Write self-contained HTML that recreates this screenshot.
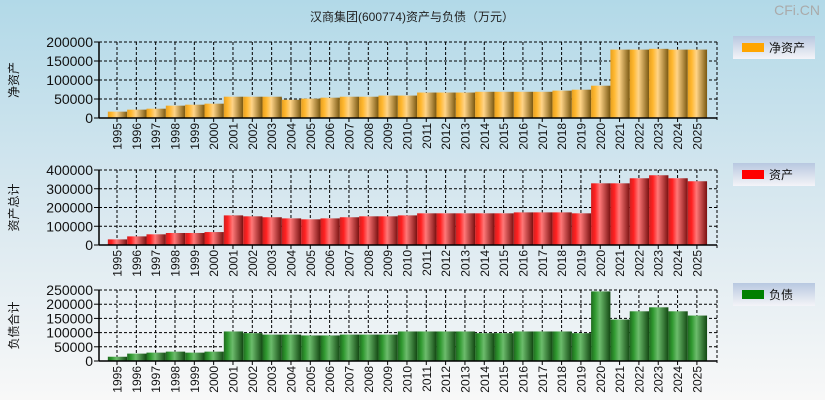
<!DOCTYPE html>
<html><head><meta charset="utf-8">
<style>
html,body{margin:0;padding:0;}
body{width:825px;height:400px;overflow:hidden;font-family:"Liberation Sans","Noto Sans CJK SC",sans-serif;}
</style></head>
<body>
<svg id="chart" width="825" height="400" xmlns="http://www.w3.org/2000/svg">
<defs>
<linearGradient id="bg" x1="0" y1="0" x2="0" y2="1">
<stop offset="0" stop-color="#b2d9e8"/><stop offset="0.55" stop-color="#dbe9f0"/><stop offset="1" stop-color="#f8f8f8"/>
</linearGradient>
<linearGradient id="gO" x1="0" y1="0" x2="1" y2="0">
<stop offset="0" stop-color="#e8a020"/><stop offset="0.2" stop-color="#ffb830"/><stop offset="0.45" stop-color="#ffd488"/><stop offset="1" stop-color="#7a5810"/>
</linearGradient>
<linearGradient id="gR" x1="0" y1="0" x2="1" y2="0">
<stop offset="0" stop-color="#d02020"/><stop offset="0.2" stop-color="#ff2020"/><stop offset="0.45" stop-color="#ff7878"/><stop offset="1" stop-color="#7a1010"/>
</linearGradient>
<linearGradient id="gG" x1="0" y1="0" x2="1" y2="0">
<stop offset="0" stop-color="#1f6a1f"/><stop offset="0.2" stop-color="#2f982f"/><stop offset="0.45" stop-color="#6cbc6c"/><stop offset="1" stop-color="#124812"/>
</linearGradient>
<linearGradient id="lg" x1="0" y1="0" x2="0" y2="1">
<stop offset="0" stop-color="#b8c8e0"/><stop offset="1" stop-color="#f4f4f8"/>
</linearGradient>
</defs>
<rect x="0" y="0" width="825" height="400" fill="url(#bg)"/>
<text x="412" y="21" text-anchor="middle" font-size="12" fill="#222">汉商集团(600774)资产与负债（万元）</text>
<text x="820" y="15" text-anchor="end" font-size="14" fill="#aaa">CFi.CN</text>
<g id="panels"></g>
</svg>
<script>
const years = ["1995","1996","1997","1998","1999","2000","2001","2002","2003","2004","2005","2006","2007","2008","2009","2010","2011","2012","2013","2014","2015","2016","2017","2018","2019","2020","2021","2022","2023","2024","2025"];
const netAssets = [16700,22000,24500,32500,35000,37700,56000,56000,56000,48000,51000,53500,56000,56000,59000,59000,67000,67000,67000,69000,69000,69000,69000,72000,74500,85000,180000,180000,182000,180000,180000];
const totalAssets = [30000,46000,57000,64000,64000,69000,158000,153000,148000,142000,137000,142000,148000,153000,153000,158000,169000,169000,169000,169000,169000,174000,174000,174000,169000,329000,329000,356000,372000,356000,340000];
const liabilities = [15000,26000,29500,33000,29500,33000,104000,98000,93000,93000,90000,90000,93000,93000,93000,104000,104000,104000,104000,98000,98000,104000,104000,104000,98000,245000,146000,175000,189000,175000,160000];
const ticks1 = [0,50000,100000,150000,200000];
const ticks2 = [0,100000,200000,300000,400000];
const ticks3 = [0,50000,100000,150000,200000,250000];

const NS="http://www.w3.org/2000/svg";
const root=document.getElementById('panels');
function mk(tag,attrs,parent){const e=document.createElementNS(NS,tag);for(const k in attrs)e.setAttribute(k,attrs[k]);(parent||root).appendChild(e);return e;}
const X0=99,X1=717,firstTick=117,step=19.33;
function xScale(i){return firstTick+i*step;}

function panel(key,values,ticks,top,bottom,fill,swatch,ytitle,legendLabel,legTop){
  const g=mk('g',{});
  
  
  const maxV=ticks[ticks.length-1];
  const yScale=v=>bottom-(v/maxV)*(bottom-top);
  // grid
  ticks.forEach(t=>{ if(t===0)return;
    const l=mk('line',{x1:X0,x2:X1,y1:yScale(t),y2:yScale(t),stroke:'#000','stroke-dasharray':'3,2','stroke-width':1},g);
    
    
  });
  years.forEach((y,i)=>{
    const l=mk('line',{x1:xScale(i),x2:xScale(i),y1:top,y2:bottom,stroke:'#000','stroke-dasharray':'3,2','stroke-width':1},g);
    
    
  });
  const rb=mk('line',{x1:X1,x2:X1,y1:top,y2:bottom+4,stroke:'#000','stroke-dasharray':'3,2'},g);
  
  
  // bars
  values.forEach((v,i)=>{
    const y=yScale(v);
    const r=mk('rect',{x:xScale(i)-step/2+0.5,y:y,width:step,height:bottom-y,fill:fill},g);
    
    
  });
  // axes
  const ya=mk('line',{x1:X0,x2:X0,y1:top,y2:bottom,stroke:'#000','stroke-width':1.5},g);
  
  
  const xa=mk('line',{x1:X0,x2:X1,y1:bottom,y2:bottom,stroke:'#000','stroke-width':1.5},g);
  
  
  ticks.forEach(t=>{
    const tk=mk('line',{x1:X0-5,x2:X0,y1:yScale(t),y2:yScale(t),stroke:'#000'},g);
    
    
    const tx=mk('text',{x:X0-6,y:yScale(t)+5,'text-anchor':'end','font-size':'14',fill:'#111'},g);
    tx.textContent=String(t);
    
    
  });
  years.forEach((y,i)=>{
    const tk=mk('line',{x1:xScale(i),x2:xScale(i),y1:bottom,y2:bottom+4,stroke:'#000'},g);
    
    
    const tx=mk('text',{x:0,y:0,'text-anchor':'end','font-size':'12',fill:'#111',transform:'translate('+(xScale(i)+4.5)+','+(bottom+5)+') rotate(-90)'},g);
    tx.textContent=y;
    
    
  });
  const yt=mk('text',{x:0,y:0,'text-anchor':'middle','font-size':'12',fill:'#111',transform:'translate(18,'+((top+bottom)/2)+') rotate(-90)'},g);
  yt.textContent=ytitle;
  
  
  // legend
  const lb=mk('rect',{x:733,y:legTop,width:82,height:23,fill:'url(#lg)'},g);
  
  
  const sw=mk('rect',{x:742,y:legTop+7,width:22,height:9,fill:swatch},g);
  
  
  const lt=mk('text',{x:769,y:legTop+16,'font-size':'12',fill:'#111'},g);
  lt.textContent=legendLabel;
  
  
}
panel('net-assets',netAssets,ticks1,42,118,'url(#gO)','#ffa500','净资产','净资产',36);
panel('total-assets',totalAssets,ticks2,170,245,'url(#gR)','#ff0000','资产总计','资产',163);
panel('liabilities',liabilities,ticks3,290,361,'url(#gG)','#008000','负债合计','负债',283);
</script>
</body></html>
